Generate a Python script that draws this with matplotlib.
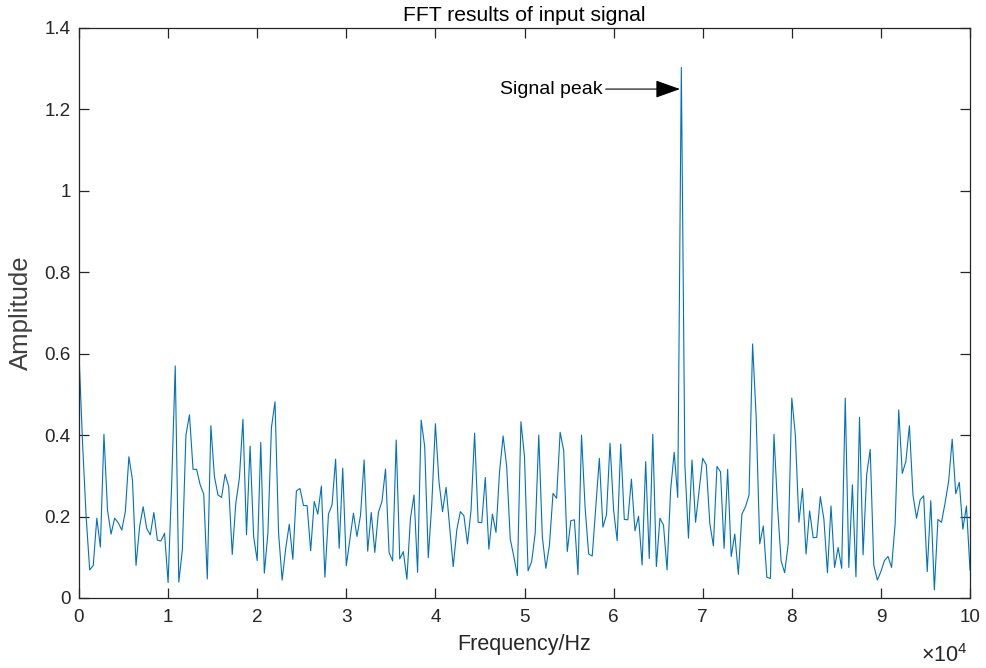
import numpy as np
import matplotlib
matplotlib.use("Agg")
import matplotlib.pyplot as plt

plt.rcParams['font.family'] = ['Liberation Sans', 'DejaVu Sans']
plt.rcParams['mathtext.fontset'] = 'custom'
plt.rcParams['mathtext.rm'] = 'Liberation Sans'

# Frequency bins (Hz), 400 Hz resolution
freq = np.arange(0, 100001, 400)

amplitude = [
    0.600, 0.380, 0.200, 0.069, 0.080, 0.196, 0.125, 0.402, 0.216, 0.157,
    0.196, 0.185, 0.167, 0.212, 0.347, 0.290, 0.080, 0.175, 0.224, 0.171,
    0.155, 0.210, 0.142, 0.140, 0.159, 0.038, 0.280, 0.570, 0.039, 0.118,
    0.400, 0.450, 0.316, 0.316, 0.278, 0.255, 0.047, 0.423, 0.298, 0.253,
    0.247, 0.304, 0.274, 0.107, 0.233, 0.294, 0.439, 0.155, 0.373, 0.151,
    0.092, 0.382, 0.061, 0.159, 0.419, 0.482, 0.159, 0.044, 0.122, 0.181,
    0.095, 0.263, 0.269, 0.227, 0.227, 0.116, 0.237, 0.206, 0.275, 0.051,
    0.206, 0.229, 0.341, 0.122, 0.319, 0.079, 0.144, 0.208, 0.151, 0.204,
    0.339, 0.115, 0.210, 0.112, 0.210, 0.237, 0.317, 0.112, 0.091, 0.388,
    0.096, 0.114, 0.046, 0.196, 0.253, 0.063, 0.437, 0.372, 0.099, 0.233,
    0.428, 0.286, 0.212, 0.272, 0.175, 0.077, 0.167, 0.212, 0.202, 0.133,
    0.216, 0.405, 0.186, 0.185, 0.296, 0.120, 0.206, 0.161, 0.310, 0.398,
    0.323, 0.145, 0.102, 0.055, 0.433, 0.347, 0.067, 0.089, 0.159, 0.400,
    0.151, 0.073, 0.130, 0.257, 0.245, 0.407, 0.362, 0.114, 0.190, 0.192,
    0.057, 0.400, 0.223, 0.108, 0.103, 0.224, 0.343, 0.174, 0.204, 0.380,
    0.216, 0.141, 0.378, 0.193, 0.192, 0.292, 0.165, 0.201, 0.081, 0.335,
    0.097, 0.402, 0.077, 0.196, 0.179, 0.069, 0.265, 0.358, 0.247, 1.303,
    0.327, 0.147, 0.339, 0.186, 0.265, 0.343, 0.327, 0.183, 0.128, 0.323,
    0.310, 0.122, 0.316, 0.102, 0.157, 0.058, 0.206, 0.224, 0.253, 0.624,
    0.445, 0.133, 0.177, 0.051, 0.048, 0.402, 0.224, 0.091, 0.062, 0.133,
    0.491, 0.400, 0.186, 0.269, 0.108, 0.214, 0.148, 0.149, 0.249, 0.194,
    0.062, 0.226, 0.075, 0.124, 0.073, 0.491, 0.075, 0.278, 0.052, 0.444,
    0.106, 0.302, 0.365, 0.081, 0.044, 0.065, 0.092, 0.102, 0.075, 0.183,
    0.462, 0.306, 0.335, 0.423, 0.253, 0.196, 0.241, 0.251, 0.065, 0.239,
    0.020, 0.193, 0.186, 0.233, 0.286, 0.390, 0.256, 0.284, 0.169, 0.226,
    0.069,
]

xticks = [0, 10000, 20000, 30000, 40000, 50000, 60000, 70000, 80000, 90000, 100000]
xticklabels = ['0', '1', '2', '3', '4', '5', '6', '7', '8', '9', '10']
yticks = [0, 0.2, 0.4, 0.6, 0.8, 1.0, 1.2, 1.4]
yticklabels = ['0', '0.2', '0.4', '0.6', '0.8', '1', '1.2', '1.4']

peak_text = 'Signal peak'
peak_xy = (67450, 1.25)
peak_text_xy = (58800, 1.25)

fig = plt.figure(figsize=(9.86, 6.68), dpi=100)
ax = fig.add_axes([79/986, 1-598/668, (970-79)/986, (598-28)/668])

ax.plot(freq[:len(amplitude)], amplitude, color='#0072BD', lw=0.8)

ax.set_xlim(0, 100000)
ax.set_ylim(0, 1.4)
ax.set_xticks(xticks)
ax.set_xticklabels(xticklabels)
ax.set_yticks(yticks)
ax.set_yticklabels(yticklabels)

axc = '#262626'
for s in ax.spines.values():
    s.set_color(axc)
    s.set_linewidth(0.9)
ax.tick_params(direction='in', length=7, width=0.9, colors=axc,
               labelsize=13.6, top=True, right=True, pad=6)
ax.tick_params(axis='x', pad=8)

ax.set_title('FFT results of input signal', fontsize=15.2, color='black', pad=5)
ax.set_xlabel('Frequency/Hz', fontsize=15.5, color=axc, labelpad=6)
ax.set_ylabel('Amplitude', fontsize=18.5, color='#404040', labelpad=8)

fig.text(921/986, 1-656/668, r'$\times\mathregular{10^4}$', fontsize=15.5,
         color=axc, ha='left', va='center')

ax.annotate(peak_text, xy=peak_xy, xytext=peak_text_xy, ha='right', va='center',
            fontsize=14, color='black',
            arrowprops=dict(arrowstyle='-|>,head_length=0.7,head_width=0.25',
                            color='black', lw=0.8,
                            mutation_scale=22, shrinkA=0, shrinkB=0))

fig.savefig('out.png', dpi=100)
